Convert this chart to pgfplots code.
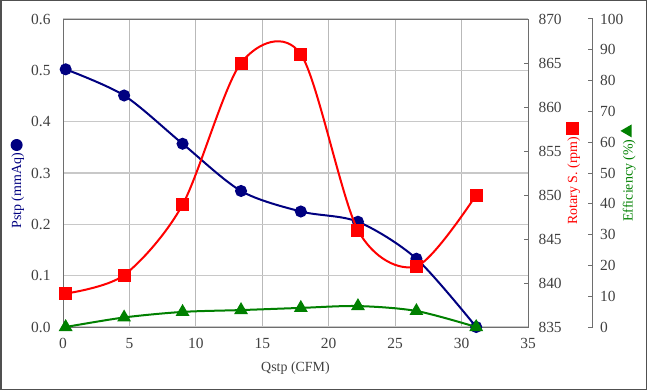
\documentclass[border=0pt]{standalone}
\usepackage{pgfplots}
\pgfplotsset{compat=1.18}
\usepackage{fontspec}
\setmainfont{Liberation Serif}
\definecolor{navyb}{RGB}{0,0,128}
\definecolor{redc}{RGB}{255,0,0}
\definecolor{greenc}{RGB}{0,128,0}
\definecolor{tickgray}{RGB}{64,64,64}
\definecolor{hgrid}{RGB}{200,200,200}
\definecolor{vgrid}{RGB}{185,185,185}
\definecolor{framegray}{RGB}{80,80,80}
\definecolor{axgray}{RGB}{110,110,110}

\pgfplotstableread{
x p
0.2 0.502
4.6 0.451
9.0 0.357
13.4 0.265
17.9 0.225
22.2 0.205
26.6 0.133
31.1 0.0
}\pstp
\pgfplotstableread{
x r
0.2 838.8
4.6 840.9
9.0 848.9
13.4 865.0
17.9 866.0
22.2 846.0
26.6 841.9
31.1 850.0
}\rot
\pgfplotstableread{
x e
0.2 0.0
4.6 3.1
9.0 4.9
13.4 5.5
17.9 6.2
22.2 6.8
26.6 5.2
31.1 0.0
}\eff

\begin{document}
\begin{tikzpicture}[x=1bp,y=1bp]
\useasboundingbox (0,0) rectangle (647,390);
\pgfplotsset{
  base/.style={
    scale only axis, width=465bp, height=308bp,
    at={(63bp,63bp)}, anchor=south west,
    xmin=0, xmax=35,
    tick label style={font=\fontsize{15.5}{17}\selectfont, text=tickgray},
    /pgf/number format/assume math mode=true,
    label style={font=\fontsize{14}{16}\selectfont},
  }
}
\begin{axis}[base,
  ymin=0, ymax=0.6,
  ytick={0,0.1,0.2,0.3,0.4,0.5,0.6},
  xtick={0,5,10,15,20,25,30,35},
  yticklabel style={/pgf/number format/.cd, fixed, fixed zerofill, precision=1, /tikz/.cd, xshift=-9bp},
  xticklabel style={yshift=-8bp},
  major tick length=0pt,
  grid=major,
  major y grid style={hgrid, line width=1.4bp},
  major x grid style={vgrid, line width=0.8bp},
  axis line style={axgray, line width=1bp},
  xlabel={Qstp (CFM)},
  xlabel style={text=tickgray, at={(axis description cs:0.5,-0.133)}, anchor=center},
  ylabel={\textcolor{navyb}{Pstp (mmAq)}\hspace{2bp}\tikz[baseline={(0,-4.6bp)}]\fill[navyb] (0,0) circle (6bp);},
  ylabel style={at={(axis description cs:-0.098,0.465)}, anchor=center},
  clip=false,
]
\addplot[navyb, line width=2bp, smooth, mark=*, mark size=5bp, mark options={fill=navyb}] table[x=x,y=p] {\pstp};
\end{axis}
\begin{axis}[base,
  ymin=835, ymax=870,
  ytick={835,840,845,850,855,860,865,870},
  hide x axis,
  axis y line*=right,
  tick align=inside,
  major tick length=4bp,
  tick style={axgray, line width=1bp},
  axis line style={axgray, line width=1bp},
  yticklabel style={xshift=7bp},
  ylabel={\textcolor{redc}{Rotary S. (rpm)}\hspace{2bp}\tikz[baseline={(0,-4.6bp)}]\fill[redc] (-6.5bp,-6.5bp) rectangle (6.5bp,6.5bp);},
  ylabel style={at={(axis description cs:1.0968,0.5)}, anchor=center},
  clip=false,
]
\addplot[redc, line width=2bp, smooth, mark=square*, mark size=5.5bp, mark options={fill=redc}] table[x=x,y=r] {\rot};
\end{axis}
\begin{axis}[base,
  width=529.7bp, xmax=39.87,
  ymin=0, ymax=100,
  ytick={0,10,20,30,40,50,60,70,80,90,100},
  hide x axis,
  axis y line*=right,
  tick align=inside,
  major tick length=5bp,
  tick style={axgray, line width=1bp},
  axis line style={axgray, line width=1bp},
  yticklabel style={xshift=4bp},
  ylabel={\textcolor{greenc}{Efficiency (\%)}\hspace{2bp}\tikz[baseline={(0,-4.6bp)}]\fill[greenc] (90:7.5bp) -- (210:7.5bp) -- (330:7.5bp) -- cycle;},
  ylabel style={at={(axis description cs:1.0666,0.5)}, anchor=center},
  clip=false,
]
\addplot[greenc, line width=2bp, smooth, mark=triangle*, mark size=6bp, mark options={fill=greenc}] table[x=x,y=e] {\eff};
\end{axis}
\draw[framegray, line width=1.5bp] (0.75,0.75) rectangle (646.25,389.25);
\end{tikzpicture}
\end{document}
